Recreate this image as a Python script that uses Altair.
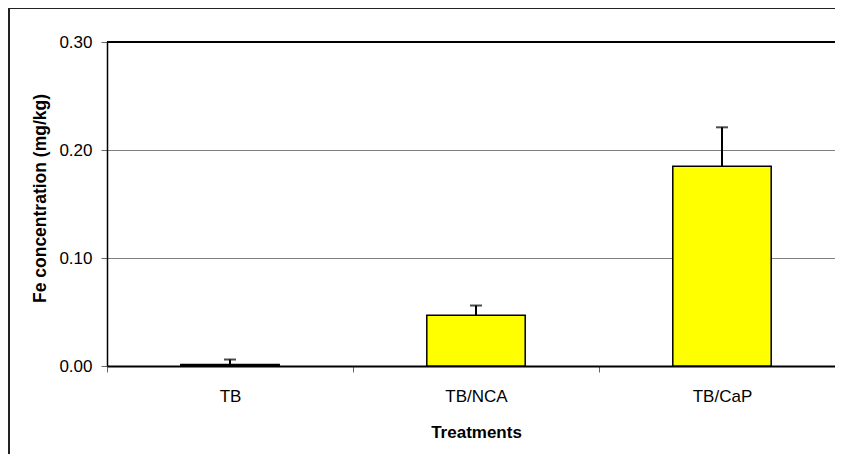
import altair as alt
import pandas as pd

treatments = ["TB", "TB/NCA", "TB/CaP"]
fe_mean = [0.0015, 0.047, 0.185]
fe_err = [0.0045, 0.009, 0.036]
y_ticks = [0.0, 0.1, 0.2, 0.3]

df = pd.DataFrame({"treatment": treatments, "mean": fe_mean, "err": fe_err})
df["upper"] = df["mean"] + df["err"]

FONT = "Liberation Sans"
W, H = 728, 324
X_RANGE = 738

x_enc = alt.X(
    "treatment:N",
    sort=treatments,
    scale=alt.Scale(paddingInner=0, paddingOuter=0, range=[0, X_RANGE]),
    axis=alt.Axis(
        title="Treatments",
        labelAngle=0,
        tickBand="extent",
        tickSize=6,
        tickColor="#666666",
        tickWidth=1,
        domainColor="#000000",
        domainWidth=2,
        labelFont=FONT,
        labelFontSize=17,
        labelColor="#000000",
        labelPadding=16,
        titleFont=FONT,
        titleFontSize=17,
        titleFontWeight="bold",
        titleColor="#000000",
        titlePadding=20,
        grid=False,
    ),
)

y_scale = alt.Scale(domain=[0, 0.3], nice=False)
y_axis = alt.Axis(
    title="Fe concentration (mg/kg)",
    values=y_ticks,
    format=".2f",
    tickSize=6,
    tickColor="#666666",
    tickWidth=1,
    domainColor="#000000",
    domainWidth=1.5,
    labelFont=FONT,
    labelFontSize=17,
    labelColor="#000000",
    labelPadding=9,
    titleFont=FONT,
    titleFontSize=17.5,
    titleFontWeight="bold",
    titleColor="#000000",
    titlePadding=9,
    titleY=H / 2 - 6,
    grid=True,
    gridColor="#808080",
    gridWidth=1,
)

base = alt.Chart(df)

bars = base.mark_bar(
    width=alt.RelativeBandSize(0.4),
    color="#FFFF00",
    stroke="#000000",
    strokeWidth=1.5,
).encode(
    x=x_enc,
    y=alt.Y("mean:Q", scale=y_scale, axis=y_axis),
)

err_rule = base.mark_rule(color="#000000", strokeWidth=2).encode(
    x=alt.X("treatment:N", sort=treatments),
    y="mean:Q",
    y2="upper:Q",
)

err_cap = base.mark_tick(color="#000000", size=12, thickness=2).encode(
    x=alt.X("treatment:N", sort=treatments),
    y="upper:Q",
)

top_line = alt.Chart(alt.Data(values=[{"v": 0.3}])).mark_rule(
    color="#000000", strokeWidth=2
).encode(y=alt.Y("v:Q"))

frame_data = alt.Data(values=[{"f": 1}])
frame_left = alt.Chart(frame_data).mark_rule(
    color="#222222", strokeWidth=2
).encode(
    x=alt.value(-98),
    y=alt.value(-34),
    y2=alt.value(H + 200),
)
frame_top = alt.Chart(frame_data).mark_rule(
    color="#222222", strokeWidth=2
).encode(
    x=alt.value(-98),
    x2=alt.value(W + 20),
    y=alt.value(-34),
)

chart = (
    alt.layer(bars, err_rule, err_cap, top_line, frame_left, frame_top)
    .properties(
        width=W,
        height=H,
        autosize=alt.AutoSizeParams(type="none"),
        padding={"left": 99, "top": 34, "right": 0, "bottom": 88},
        background="#FFFFFF",
    )
    .configure_view(stroke=None)
)

chart.save("out.html", embed_options={"renderer": "svg", "actions": False})
